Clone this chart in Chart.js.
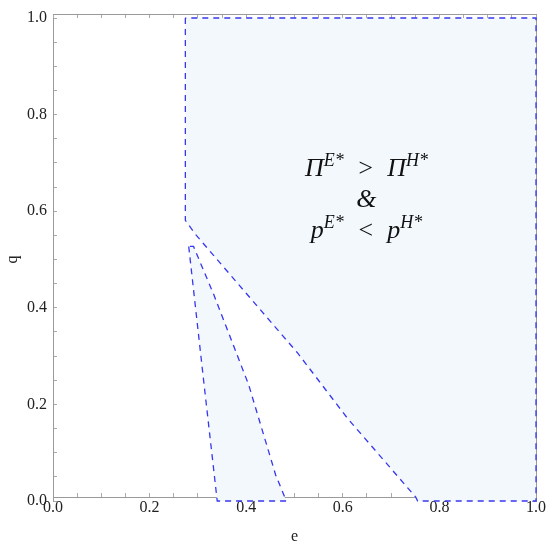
<!DOCTYPE html>
<html>
<head>
<meta charset="utf-8">
<script src="https://cdn.jsdelivr.net/npm/chart.js@4.4.1/dist/chart.umd.min.js"></script>
<style>
  html, body { margin: 0; padding: 0; background: #fff; }
  #box { width: 550px; height: 547px; }
</style>
</head>
<body>
<div id="box"><canvas id="regionChart"></canvas></div>
<script>
// REGION BOUNDARIES
const bigE = [0.274, 0.274, 0.295, 0.474, 0.506, 0.609, 0.751, 0.755, 1.0, 1.0, 0.274];
const bigQ = [1.0, 0.581, 0.552, 0.344, 0.307, 0.172, 0.008, 0.0, 0.0, 1.0, 1.0];

const leftE = [0.281, 0.312, 0.340];
const leftQ = [0.527, 0.248, 0.0];
const midE = [0.483, 0.461, 0.405, 0.333, 0.291];
const midQ = [0.0, 0.054, 0.241, 0.427, 0.527];

const majorTicks = [0, 0.2, 0.4, 0.6, 0.8, 1.0];
// "|" splits main text from superscripts (odd pieces are superscripts)
const labelLines = ["Π|E*|\u2002>\u2002Π|H*", "&", "p|E*|\u2002<\u2002p|H*"];
const labelAt = { e: 0.649, q: [0.672, 0.608, 0.545] };

const lineBlue = "rgb(55, 55, 240)";
const fillBlue = "rgb(243, 248, 253)";
const serif = "'Liberation Serif', 'Times New Roman', serif";

function toPoints(xs, ys) {
  return xs.map((x, i) => ({ x: x, y: ys[i] }));
}

const smallPts = toPoints(leftE, leftQ).concat(toPoints(midE, midQ));
smallPts.push(smallPts[0]);

function isMajor(v) {
  return majorTicks.some(m => Math.abs(m - v) < 1e-6);
}

// text in the region: main glyphs + superscripts, drawn at scale positions
const regionText = {
  id: "regionText",
  afterDatasetsDraw(chart) {
    const ctx = chart.ctx;
    const xs = chart.scales.x, ys = chart.scales.y;
    const cx = xs.getPixelForValue(labelAt.e);
    const mainFont = "italic 26px " + serif;
    const supFont = "italic 18px " + serif;
    ctx.save();
    ctx.fillStyle = "#111";
    ctx.textBaseline = "alphabetic";
    labelLines.forEach((line, li) => {
      const parts = line.split("|");
      let total = 0;
      parts.forEach((p, i) => {
        ctx.font = i % 2 ? supFont : mainFont;
        total += ctx.measureText(p).width;
      });
      let x = cx - total / 2;
      const y = ys.getPixelForValue(labelAt.q[li]);
      parts.forEach((p, i) => {
        ctx.font = i % 2 ? supFont : mainFont;
        ctx.fillText(p, x, i % 2 ? y - 10 : y);
        x += ctx.measureText(p).width;
      });
    });
    ctx.restore();
  }
};

function axis(pos, opts) {
  return {
    type: "linear",
    position: pos,
    min: 0,
    max: 1,
    ticks: {
      display: !!opts.labels,
      stepSize: 0.05,
      autoSkip: false,
      maxRotation: 0,
      padding: opts.tickPad || 0,
      color: "#222",
      font: { family: serif, size: 16, lineHeight: opts.lineHeight || 1.2 },
      callback: v => (isMajor(v) ? v.toFixed(1) + (opts.suffix || "") : "")
    },
    grid: {
      drawOnChartArea: false,
      drawTicks: true,
      tickLength: -4,
      color: "#aaa"
    },
    border: { display: true, color: "#9a9a9a", width: 1 },
    title: {
      display: !!opts.title,
      text: opts.title || "",
      color: "#222",
      font: { family: serif, size: 16, lineHeight: opts.titleLH || 1.2 },
      padding: opts.titlePad || 0
    }
  };
}

new Chart(document.getElementById("regionChart").getContext("2d"), {
  type: "line",
  data: {
    datasets: [
      {
        data: toPoints(bigE, bigQ),
        borderColor: lineBlue,
        borderWidth: 1.3,
        borderDash: [6, 5],
        backgroundColor: fillBlue,
        fill: "shape",
        pointRadius: 0,
        tension: 0,
        clip: false
      },
      {
        data: smallPts,
        borderColor: lineBlue,
        borderWidth: 1.3,
        borderDash: [6, 5],
        backgroundColor: fillBlue,
        fill: "shape",
        pointRadius: 0,
        tension: 0,
        clip: false
      }
    ]
  },
  options: {
    responsive: true,
    maintainAspectRatio: false,
    animation: false,
    layout: { padding: { top: 18, right: 14, left: 5, bottom: 0 } },
    plugins: {
      legend: { display: false },
      tooltip: { enabled: false }
    },
    scales: {
      x: axis("bottom", { labels: true, title: "e", tickPad: 4, lineHeight: 1.3, titlePad: { top: 5, bottom: -3 } }),
      x2: axis("top", {}),
      y: axis("left", { labels: true, title: "q", tickPad: 6, suffix: " ", titleLH: 1.0 }),
      y2: axis("right", {})
    }
  },
  plugins: [regionText]
});
</script>
</body>
</html>
